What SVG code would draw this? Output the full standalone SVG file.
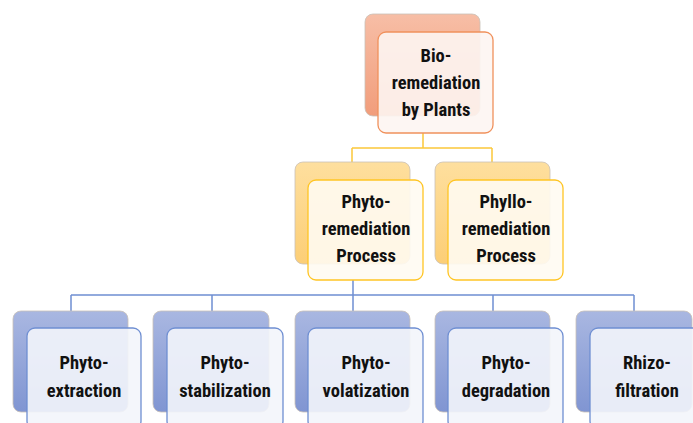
<svg xmlns="http://www.w3.org/2000/svg" width="693" height="423" viewBox="0 0 693 423">
<defs>
<linearGradient id="gO" x1="0" y1="0" x2="0" y2="1"><stop offset="0" stop-color="#f7bea6"/><stop offset="1" stop-color="#f19d7b"/></linearGradient>
<linearGradient id="gY" x1="0" y1="0" x2="0" y2="1"><stop offset="0" stop-color="#fedf9e"/><stop offset="1" stop-color="#fcce76"/></linearGradient>
<linearGradient id="gB" x1="0" y1="0" x2="0" y2="1"><stop offset="0" stop-color="#a9b7e1"/><stop offset="1" stop-color="#8095d2"/></linearGradient>
<style>
.back{stroke:#c9c0b8;stroke-width:0.8}
.bo{fill:url(#gO)} .by{fill:url(#gY)} .bb{fill:url(#gB)}
.front{fill-opacity:0.9;stroke-width:1.3}
.fo{stroke:#f0915c;fill:#fdf5f2} .fy{stroke:#ffc524;fill:#fffbf2} .fb{stroke:#6f8fd2;fill:#f3f5fb}
text{font-family:"Liberation Sans Narrow","Roboto Condensed","Liberation Sans",sans-serif;font-weight:bold;font-size:18.5px;fill:#111;text-anchor:middle}
.cy{stroke:#fcc83a;stroke-width:1.5;fill:none}
.cb{stroke:#6f8fd2;stroke-width:1.5;fill:none}
</style>
</defs>
<g id="connectors">
<path class="cy" d="M423 133V148M352 148H492M352 148V162M492 148V162"/>
<path class="cb" d="M353 280V295M71 295H634M71 295V311M212 295V311M353 295V311M493 295V311M634 295V311"/>
</g>
<g id="n-bio">
<rect class="back bo" x="365" y="14" width="115" height="102" rx="8"/>
<rect class="front fo" x="378" y="32" width="115" height="101" rx="8"/>
<text x="436" y="62">Bio-</text><text x="436" y="89">remediation</text><text x="436" y="116">by Plants</text>
</g>
<g id="n-phyto">
<rect class="back by" x="295" y="162" width="115" height="102" rx="8"/>
<rect class="front fy" x="308" y="180" width="115" height="100" rx="8"/>
<text x="366" y="208">Phyto-</text><text x="366" y="235">remediation</text><text x="366" y="262">Process</text>
</g>
<g id="n-phyllo">
<rect class="back by" x="435" y="162" width="115" height="102" rx="8"/>
<rect class="front fy" x="448" y="180" width="115" height="100" rx="8"/>
<text x="506" y="208">Phyllo-</text><text x="506" y="235">remediation</text><text x="506" y="262">Process</text>
</g>
<g id="n-extraction">
<rect class="back bb" x="13" y="311" width="115" height="101" rx="8"/>
<rect class="front fb" x="27" y="328" width="114" height="101" rx="8"/>
<text x="84" y="369">Phyto-</text><text x="84" y="397">extraction</text>
</g>
<g id="n-stabilization">
<rect class="back bb" x="153" y="311" width="116" height="101" rx="8"/>
<rect class="front fb" x="167" y="328" width="116" height="101" rx="8"/>
<text x="225" y="369">Phyto-</text><text x="225" y="397">stabilization</text>
</g>
<g id="n-volatization">
<rect class="back bb" x="295" y="311" width="115" height="101" rx="8"/>
<rect class="front fb" x="308" y="328" width="115" height="101" rx="8"/>
<text x="366" y="369">Phyto-</text><text x="366" y="397">volatization</text>
</g>
<g id="n-degradation">
<rect class="back bb" x="435" y="311" width="115" height="101" rx="8"/>
<rect class="front fb" x="448" y="328" width="115" height="101" rx="8"/>
<text x="506" y="369">Phyto-</text><text x="506" y="397">degradation</text>
</g>
<g id="n-rhizo">
<rect class="back bb" x="576" y="311" width="116" height="101" rx="8"/>
<rect class="front fb" x="590" y="328" width="115" height="101" rx="8"/>
<text x="647" y="369">Rhizo-</text><text x="647" y="397">filtration</text>
</g>
</svg>
